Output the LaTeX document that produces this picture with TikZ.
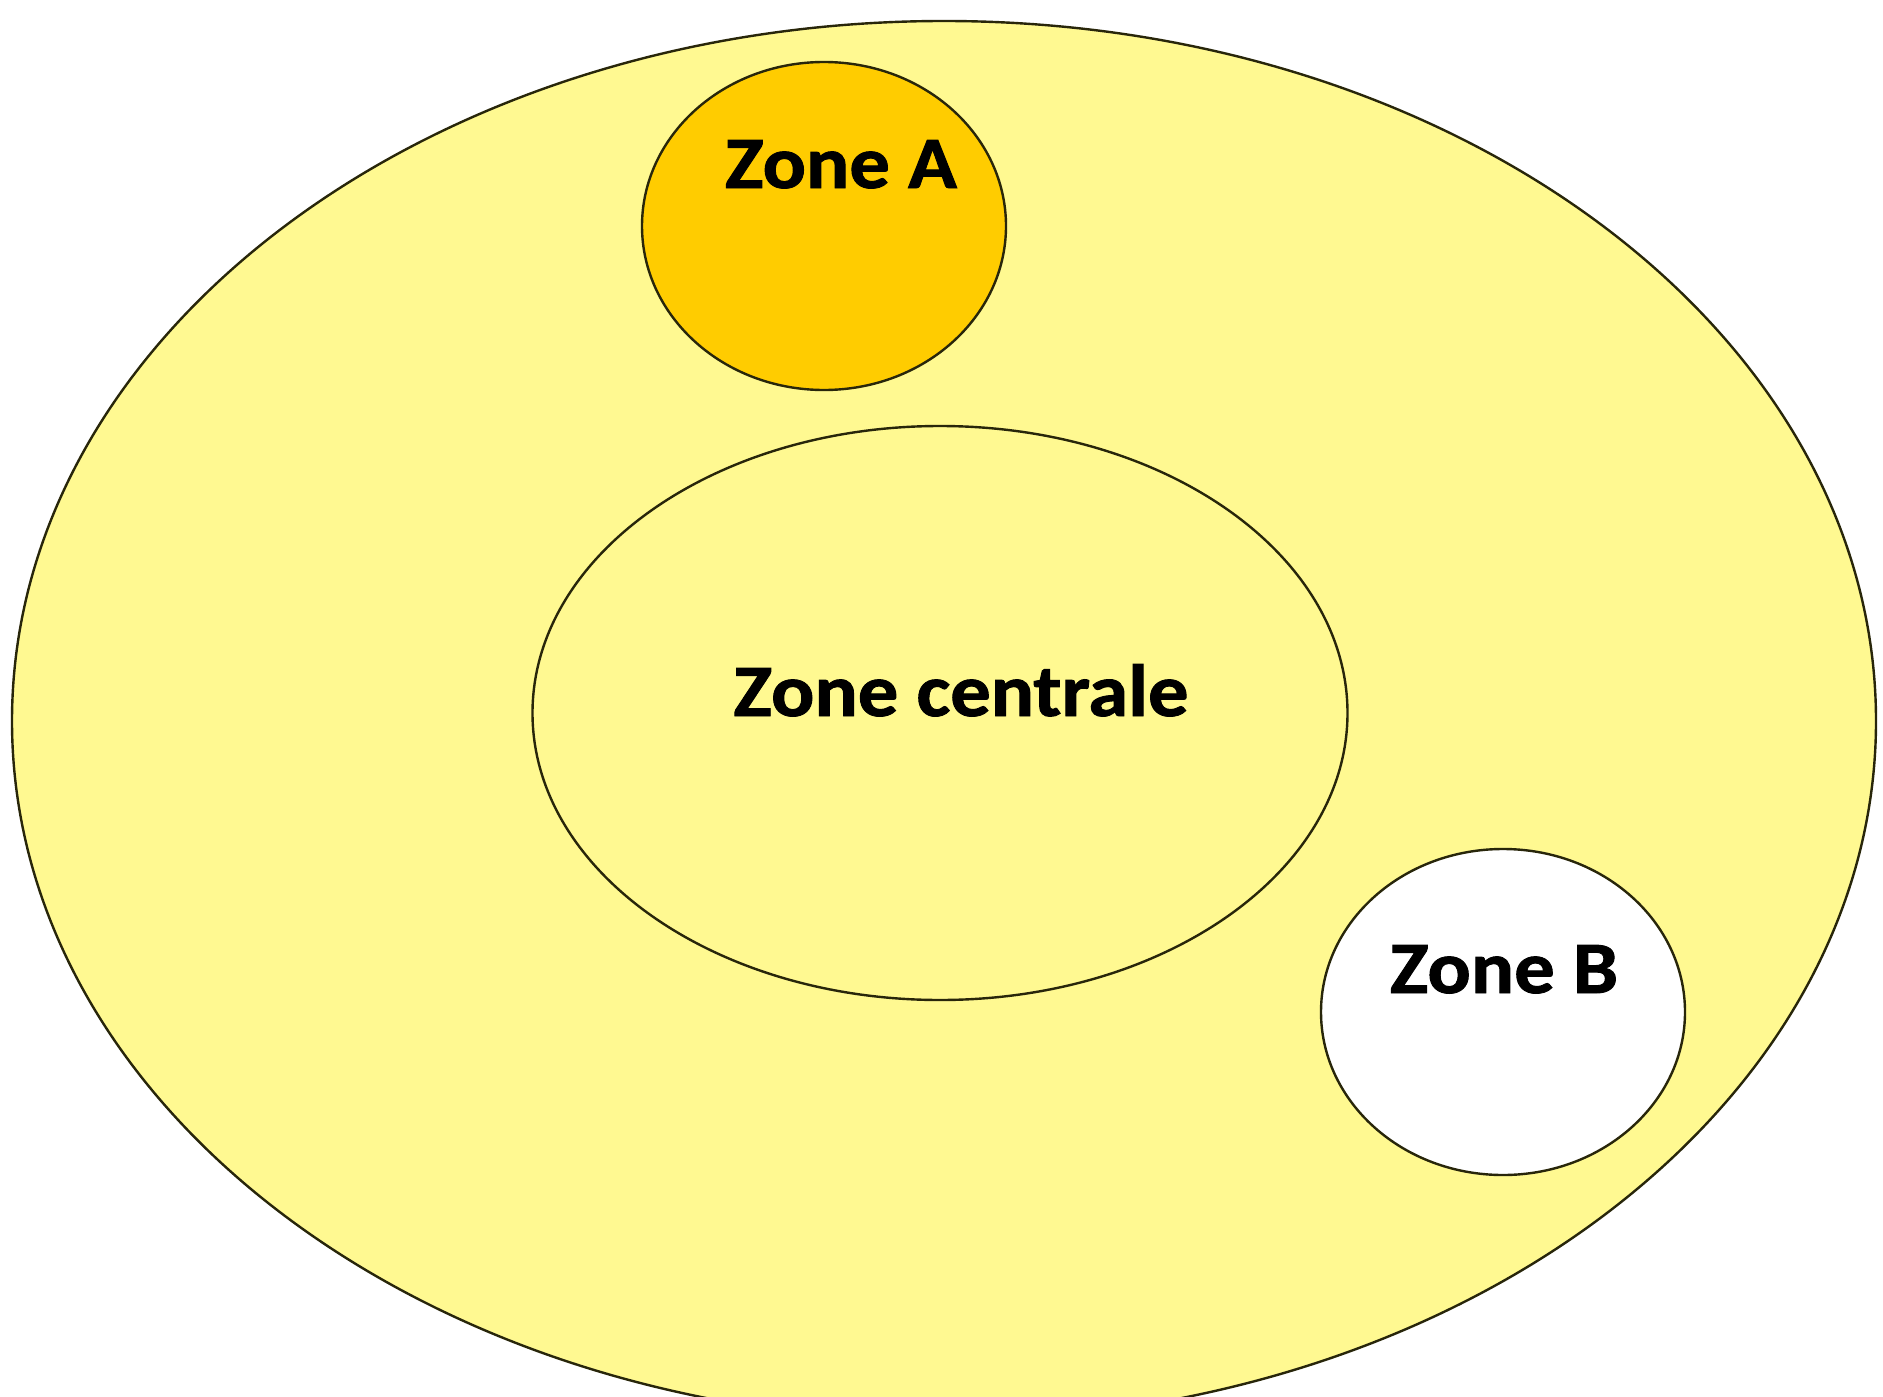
\documentclass[tikz,border=0pt]{standalone}
\usepackage{fontspec}
\setmainfont{Carlito}[BoldFeatures={FakeBold=1.2}]
\usetikzlibrary{shapes.geometric}
\definecolor{outerfill}{RGB}{255,249,145}
\definecolor{zoneafill}{RGB}{255,204,0}
\definecolor{edge}{RGB}{40,38,10}
\newcommand{\widetext}[1]{\scalebox{1.09}[1]{#1}}
\begin{document}
\begin{tikzpicture}[x=1pt,y=-1pt,
  zone/.style={ellipse,draw=edge,line width=2.4pt,inner sep=0pt},
  lbl/.style={font=\bfseries\fontsize{74}{88}\selectfont,text=black,anchor=base,inner sep=0pt}]
\useasboundingbox (0,0) rectangle (1883,1397);
\fill[white] (0,0) rectangle (1883,1397);
\begin{scope}
\clip (0,0) rectangle (1883,1397);
\node[zone,fill=outerfill,minimum width=1864pt,minimum height=1400pt] (outer) at (944,721) {};
\end{scope}
\node[zone,fill=zoneafill,minimum width=364pt,minimum height=328pt] (za) at (824,226) {};
\node[zone,fill=outerfill,minimum width=815pt,minimum height=574pt] (zc) at (940,713) {};
\node[zone,fill=white,minimum width=364pt,minimum height=326pt] (zb) at (1503,1012) {};
\node[lbl] (ta) at (841,188) {\widetext{Zone A}};
\node[lbl] (tc) at (961,716) {\widetext{Zone centrale}};
\node[lbl] (tb) at (1504,993) {\widetext{Zone B}};
\end{tikzpicture}
\end{document}
